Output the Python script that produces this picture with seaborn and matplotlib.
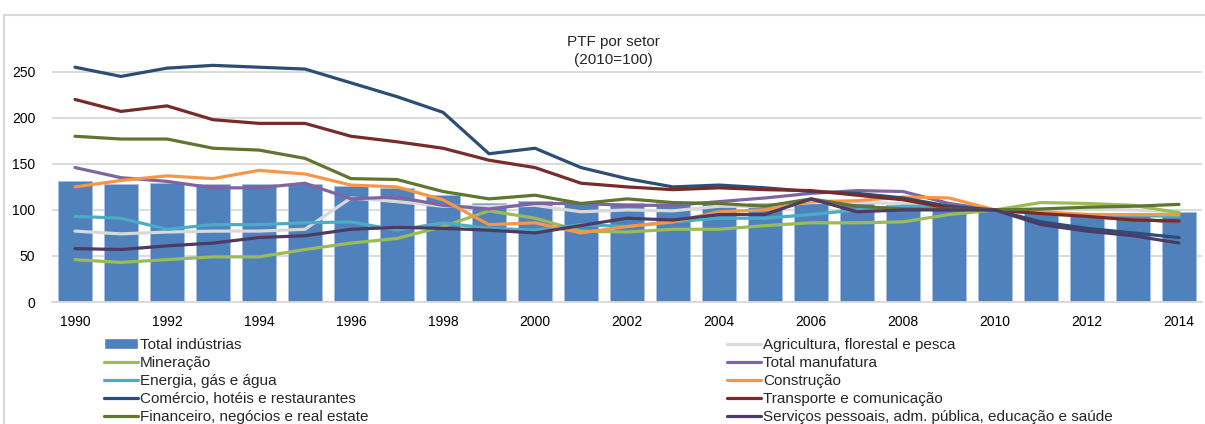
import pandas as pd
import matplotlib.pyplot as plt
import seaborn as sns
from matplotlib.patches import Rectangle
from matplotlib.lines import Line2D

# Data (2010=100)
years = list(range(1990, 2015))
total_industrias = [131, 128, 129, 128, 128, 128, 126, 124, 116, 108, 110, 109, 108,
                    108, 107, 107, 108, 109, 105, 100, 100, 97, 95, 96, 98]
agricultura = [77, 74, 76, 77, 77, 79, 113, 109, 104, 104, 105, 98, 100, 99, 104, 104,
               108, 108, 107, 103, 100, 101, 101, 100, 98]
mineracao = [46, 43, 46, 49, 49, 57, 64, 69, 82, 99, 91, 77, 76, 79, 79, 83, 86, 86, 87,
             95, 100, 108, 107, 105, 97]
manufatura = [146, 135, 131, 124, 124, 129, 112, 114, 105, 101, 107, 107, 105, 105, 109,
              113, 118, 121, 120, 107, 100, 96, 94, 91, 86]
energia = [93, 91, 79, 84, 84, 86, 87, 78, 86, 80, 78, 84, 82, 87, 91, 91, 95, 100, 104,
           104, 100, 96, 95, 94, 93]
construcao = [125, 132, 137, 134, 143, 139, 127, 125, 111, 84, 86, 75, 82, 87, 98, 100,
              109, 110, 114, 113, 100, 98, 95, 95, 95]
comercio = [255, 245, 254, 257, 255, 253, 238, 223, 206, 161, 167, 146, 134, 125, 127,
            124, 120, 118, 113, 104, 100, 87, 80, 75, 70]
transporte = [220, 207, 213, 198, 194, 194, 180, 174, 167, 154, 146, 129, 125, 122, 124,
              122, 121, 116, 111, 102, 100, 96, 93, 89, 88]
financeiro = [180, 177, 177, 167, 165, 156, 134, 133, 120, 112, 116, 107, 112, 108, 107,
              104, 112, 104, 101, 101, 100, 101, 103, 104, 106]
servicos = [58, 57, 61, 64, 70, 72, 79, 81, 80, 78, 75, 83, 91, 89, 95, 95, 112, 98, 100,
            100, 100, 84, 77, 72, 64]

bar_label = 'Total indústrias'
line_series = {
    'Agricultura, florestal e pesca': (agricultura, '#D9D9D9'),
    'Mineração': (mineracao, '#9BBB59'),
    'Total manufatura': (manufatura, '#8064A2'),
    'Energia, gás e água': (energia, '#4BACC6'),
    'Construção': (construcao, '#F79646'),
    'Comércio, hotéis e restaurantes': (comercio, '#2C4D75'),
    'Transporte e comunicação': (transporte, '#772C2A'),
    'Financeiro, negócios e real estate': (financeiro, '#5F7530'),
    'Serviços pessoais, adm. pública, educação e saúde': (servicos, '#4D3B62'),
}
tick_years = list(range(1990, 2015, 2))

sns.set_style('white')
plt.rcParams['font.family'] = ['Liberation Sans', 'DejaVu Sans']

fig = plt.figure(figsize=(12.05, 4.24), dpi=100)
ax = fig.add_axes([52 / 1205, 122 / 424, 1150 / 1205, 244 / 424])

# outer chart frame
fig.patches.append(Rectangle((4 / 1205, -0.1), 1.2, (424 - 15) / 424 + 0.1,
                             transform=fig.transFigure, fill=False,
                             edgecolor='#D9D9D9', linewidth=1.5, zorder=0))

bar_df = pd.DataFrame({'ano': years, 'valor': total_industrias})
sns.barplot(data=bar_df, x='ano', y='valor', native_scale=True, width=0.74,
            color='#4F81BD', saturation=1, edgecolor='#A7BFDE', linewidth=0.6,
            ax=ax, zorder=2)

for name, (vals, col) in line_series.items():
    df = pd.DataFrame({'ano': years, 'valor': vals})
    sns.lineplot(data=df, x='ano', y='valor', color=col, linewidth=2.3, ax=ax,
                 zorder=3)

ax.set_xlim(1989.5, 2014.5)
ax.set_ylim(0, 265)
ax.set_yticks([0, 50, 100, 150, 200, 250])
ax.set_xticks(tick_years)
ax.set_xticklabels([str(y) for y in tick_years])
ax.grid(axis='y', color='#D9D9D9', linewidth=1.3, zorder=0)
ax.set_axisbelow(True)
for s in ['top', 'right', 'left']:
    ax.spines[s].set_visible(False)
ax.spines['bottom'].set_color('#D9D9D9')
ax.spines['bottom'].set_linewidth(1.3)
ax.tick_params(axis='both', labelsize=10, length=0, colors='black')
ax.tick_params(axis='y', pad=12)
ax.tick_params(axis='x', pad=9)
ax.set_xlabel('')
ax.set_ylabel('')

fig.text(613 / 1205, 1 - 42 / 424, 'PTF por setor', ha='center', va='center',
         fontsize=11)
fig.text(613 / 1205, 1 - 60 / 424, '(2010=100)', ha='center', va='center',
         fontsize=11)

# legend in two columns, as in the reference
bar_handle = Rectangle((0, 0), 1, 1, facecolor='#4F81BD')

def lh(n):
    return Line2D([], [], color=line_series[n][1], linewidth=2.3)

col1 = [(bar_handle, bar_label)] + [(lh(n), n) for n in
        ['Mineração', 'Energia, gás e água', 'Comércio, hotéis e restaurantes',
         'Financeiro, negócios e real estate']]
col2 = [(lh(n), n) for n in
        ['Agricultura, florestal e pesca', 'Total manufatura', 'Construção',
         'Transporte e comunicação',
         'Serviços pessoais, adm. pública, educação e saúde']]

leg_kw = dict(loc='upper left', frameon=False, fontsize=11, handlelength=2.2,
              handletextpad=0.15, labelspacing=0.27, borderaxespad=0,
              borderpad=0)
l1 = fig.legend([h for h, _ in col1], [t for _, t in col1],
                bbox_to_anchor=(104 / 1205, 1 - 338 / 424), **leg_kw)
l2 = fig.legend([h for h, _ in col2], [t for _, t in col2],
                bbox_to_anchor=(727 / 1205, 1 - 338 / 424), **leg_kw)

fig.savefig('out.png', dpi=100)
